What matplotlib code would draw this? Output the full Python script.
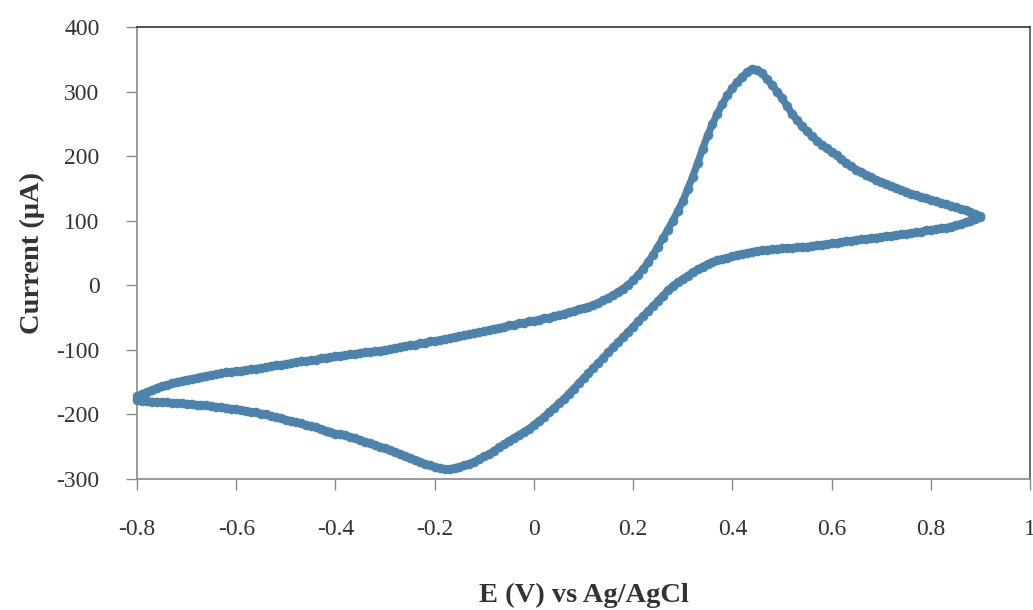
import numpy as np
import matplotlib
matplotlib.use("Agg")
import matplotlib.pyplot as plt

# Forward (anodic) scan: potential -0.80 -> 0.90 V, step 0.01 V
E_forward = np.round(np.arange(-0.80, 0.9001, 0.01), 2)
I_forward = [
    -172, -168, -165, -162, -159, -156, -154, -152, -150, -148,
    -146, -145, -143, -142, -140, -139, -138, -136, -135, -134,
    -133, -132, -131, -130, -129, -128, -127, -125, -124, -123,
    -122, -121, -119, -118, -117, -116, -115, -113, -112, -111,
    -110, -109, -108, -107, -106, -105, -104, -103, -102, -101,
    -100, -99, -97, -96, -94, -93, -92, -90, -89, -87,
    -86, -85, -83, -82, -80, -79, -77, -76, -74, -73,
    -71, -69, -67, -66, -64, -62, -61, -59, -58, -56,
    -55, -53, -51, -50, -48, -46, -44, -42, -40, -37,
    -35, -33, -30, -27, -23, -19, -15, -10, -5, 1,
    8, 16, 25, 36, 47, 60, 73, 86, 100, 115,
    130, 149, 168, 189, 211, 232, 250, 266, 281, 294,
    305, 315, 323, 330, 335, 334, 328, 319, 310, 300,
    290, 278, 266, 256, 247, 239, 231, 224, 218, 212,
    206, 201, 195, 189, 184, 179, 175, 171, 167, 163,
    160, 157, 154, 151, 148, 145, 142, 140, 137, 135,
    132, 130, 128, 126, 123, 121, 118, 116, 113, 110,
    107,
]

# Reverse (cathodic) scan: potential 0.90 -> -0.80 V, step 0.01 V
E_reverse = np.round(np.arange(0.90, -0.8001, -0.01), 2)
I_reverse = [
    106, 103, 100, 98, 95, 93, 91, 89, 88, 87,
    86, 85, 83, 82, 81, 80, 79, 78, 77, 76,
    75, 74, 73, 72, 71, 70, 69, 68, 67, 66,
    65, 64, 63, 62, 61, 60, 60, 59, 58, 58,
    57, 56, 56, 55, 54, 53, 52, 50, 49, 47,
    45, 43, 41, 39, 36, 33, 29, 25, 20, 15,
    10, 5, -1, -8, -16, -24, -32, -40, -48, -56,
    -64, -72, -80, -88, -96, -104, -112, -120, -128, -136,
    -144, -152, -160, -168, -176, -183, -190, -197, -204, -210,
    -216, -222, -227, -232, -236, -241, -246, -251, -256, -261,
    -265, -269, -273, -276, -279, -281, -283, -284, -284, -283,
    -281, -279, -276, -273, -270, -267, -264, -261, -258, -255,
    -252, -250, -247, -245, -242, -240, -237, -235, -232, -230,
    -230, -227, -225, -223, -220, -218, -216, -214, -212, -210,
    -208, -206, -204, -202, -200, -199, -197, -196, -194, -193,
    -192, -191, -190, -189, -188, -187, -186, -186, -185, -184,
    -184, -183, -182, -182, -181, -181, -180, -180, -179, -179,
    -178,
]

x_ticks = [-0.8, -0.6, -0.4, -0.2, 0, 0.2, 0.4, 0.6, 0.8, 1]
x_tick_labels = ["-0.8", "-0.6", "-0.4", "-0.2", "0", "0.2", "0.4", "0.6", "0.8", "1"]
y_ticks = [-300, -200, -100, 0, 100, 200, 300, 400]
y_tick_labels = ["-300", "-200", "-100", "0", "100", "200", "300", "400"]

plt.rcParams["font.family"] = ["Liberation Serif", "DejaVu Serif"]

fig = plt.figure(figsize=(10.33, 6.10), dpi=100)
ax = fig.add_axes([137 / 1033, 1 - 479 / 610, (1030 - 137) / 1033, (479 - 27) / 610])

E_all = np.concatenate([E_forward, E_reverse])
I_all = np.concatenate([I_forward, I_reverse])
color = "#4d82aa"
ax.plot(E_all, I_all, linestyle="-", linewidth=5.2, color=color,
        solid_joinstyle="round", solid_capstyle="round",
        marker="o", markersize=6.6, markerfacecolor=color, markeredgecolor=color,
        markeredgewidth=0.3, clip_on=False, zorder=3)

ax.set_xlim(-0.8, 1.0)
ax.set_ylim(-300, 400)
ax.set_xticks(x_ticks)
ax.set_xticklabels(x_tick_labels)
ax.set_yticks(y_ticks)
ax.set_yticklabels(y_tick_labels)

ax.tick_params(axis="both", direction="out", length=8, width=1.0, color="#8a8a8a",
               labelsize=17, labelcolor="#333333")
ax.tick_params(axis="x", pad=21)
ax.tick_params(axis="y", pad=19)

ax.spines["left"].set_color("#8a8a8a")
ax.spines["bottom"].set_color("#8a8a8a")
ax.spines["top"].set_color("#333333")
ax.spines["right"].set_color("#555555")
for s in ax.spines.values():
    s.set_linewidth(1.2)

ax.set_xlabel("E (V) vs Ag/AgCl", fontsize=20.5, fontweight="bold", color="#333333", labelpad=31)
ax.set_ylabel("Current (μA)", fontsize=20.5, fontweight="bold", color="#333333", labelpad=8)

fig.savefig("out.png", dpi=100)
